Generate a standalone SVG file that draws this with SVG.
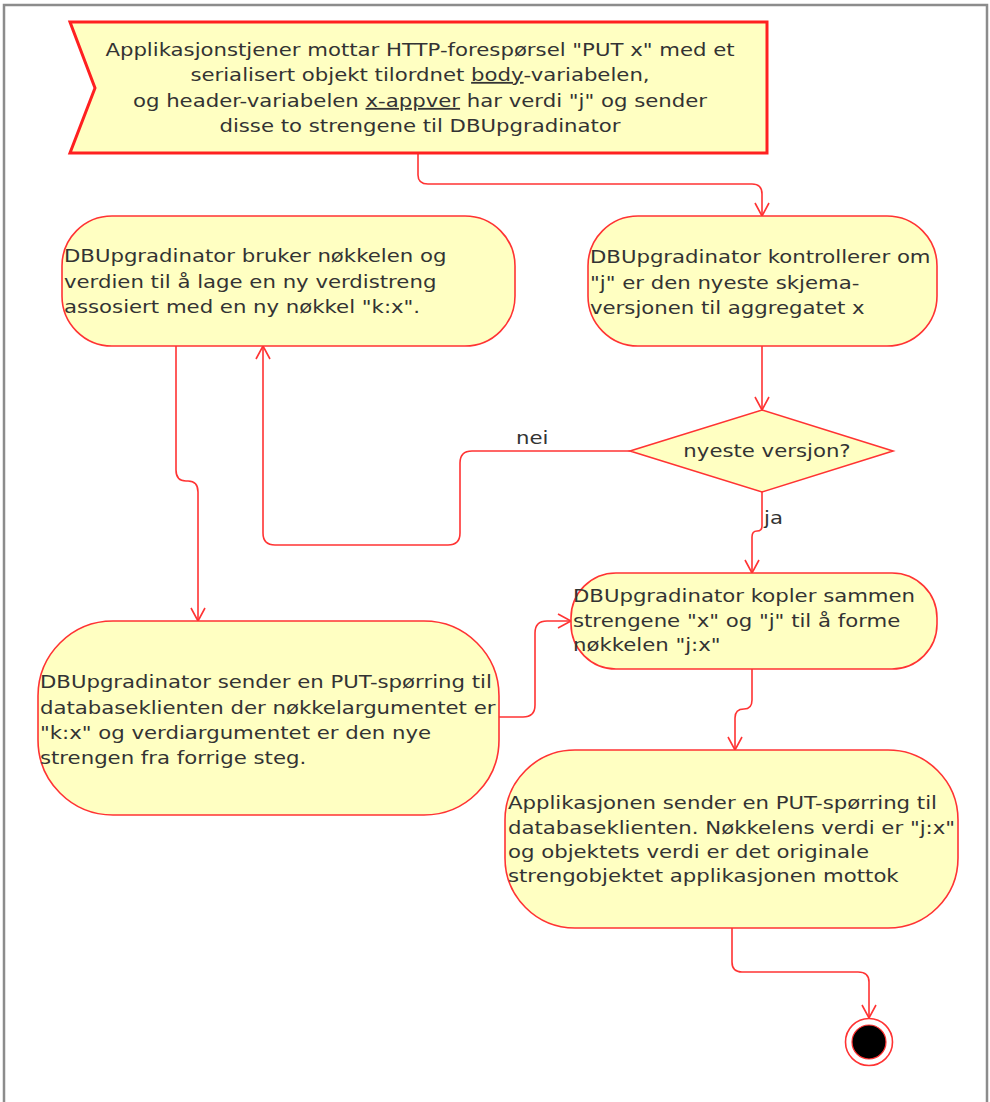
<svg xmlns="http://www.w3.org/2000/svg" width="990" height="1102" viewBox="0 0 990 1102">
  <style>
    .node { fill: #ffffc2; stroke: #ff3333; stroke-width: 1.6; }
    .sig { fill: #ffffc2; stroke: #ff2020; stroke-width: 3; }
    .txt { font-family: "DejaVu Sans", Verdana, sans-serif; font-size: 18px; fill: #333; }
    .mid { text-anchor: middle; }
    .edge { fill: none; stroke: #ff3333; stroke-width: 1.6; }
    .lbl { font-family: "DejaVu Sans", Verdana, sans-serif; font-size: 18px; fill: #333; }
    .u { text-decoration: underline; }
  </style>
  <defs>
    <marker id="arrow" markerWidth="16" markerHeight="16" refX="14" refY="8" orient="auto" markerUnits="userSpaceOnUse">
      <path d="M1,1 L14,8 L1,15" fill="none" stroke="#ff3333" stroke-width="1.6"/>
    </marker>
  </defs>

  <rect width="990" height="1102" fill="#ffffff"/>
  <!-- page frame -->
  <path d="M4,1102 V5 H987 V1102" fill="none" stroke="#8c8c8c" stroke-width="2.5"/>

  <!-- connectors -->
  <g id="connectors">
    <path class="edge" d="M418,153 V175 Q418,184 428,184 H752 Q762,184 762,194 V216" marker-end="url(#arrow)"/>
    <path class="edge" d="M762,346 V410" marker-end="url(#arrow)"/>
    <path class="edge" d="M630,451 H472 Q460,451 460,463 V533 Q460,545 448,545 H275 Q263,545 263,533 V346" marker-end="url(#arrow)"/>
    <path class="edge" d="M762,492 V526 Q762,531 757,531 Q752,531 752,537 V573" marker-end="url(#arrow)"/>
    <path class="edge" d="M176,346 V470 Q176,481 186,481 H188 Q198,481 198,492 V621" marker-end="url(#arrow)"/>
    <path class="edge" d="M499,717 H523 Q535,717 535,705 V633 Q535,621 547,621 H571" marker-end="url(#arrow)"/>
    <path class="edge" d="M752,669 V700 Q752,709 744,709 Q735,709 735,718 V750" marker-end="url(#arrow)"/>
    <path class="edge" d="M732,928 V962 Q732,972 742,972 H858 Q869,972 869,982 V1018" marker-end="url(#arrow)"/>
  </g>

  <!-- start: receive request -->
  <g id="start">
    <path class="sig" d="M70,22 H767 V153 H70 L95,88 Z"/>
    <g transform="matrix(1.18,0,0,1,-75.6,0)">
      <text class="txt mid" x="420" y="56">Applikasjonstjener mottar HTTP-forespørsel "PUT x" med et</text>
      <text class="txt mid" x="420" y="81">serialisert objekt tilordnet <tspan class="u">body</tspan>-variabelen,</text>
      <text class="txt mid" x="420" y="107">og header-variabelen <tspan class="u">x-appver</tspan> har verdi "j" og sender</text>
      <text class="txt mid" x="420" y="132">disse to strengene til DBUpgradinator</text>
    </g>
  </g>

  <g id="check">
    <rect class="node" x="588" y="216" width="349" height="130" rx="50" ry="50"/>
    <g transform="matrix(1.18,0,0,1,-106.2,0)">
      <text class="txt" x="590" y="263">DBUpgradinator kontrollerer om</text>
      <text class="txt" x="590" y="289">"j" er den nyeste skjema-</text>
      <text class="txt" x="590" y="314">versjonen til aggregatet x</text>
    </g>
  </g>

  <g id="newvalue">
    <rect class="node" x="62" y="216" width="453" height="130" rx="50" ry="50"/>
    <g transform="matrix(1.18,0,0,1,-11.52,0)">
      <text class="txt" x="64" y="262">DBUpgradinator bruker nøkkelen og</text>
      <text class="txt" x="64" y="288">verdien til å lage en ny verdistreng</text>
      <text class="txt" x="64" y="313">assosiert med en ny nøkkel "k:x".</text>
    </g>
  </g>

  <g id="decision">
    <path class="node" d="M762,410 L893,451 L762,492 L630,451 Z"/>
    <g transform="matrix(1.18,0,0,1,-138.06,0)">
      <text class="txt mid" x="767" y="457">nyeste versjon?</text>
    </g>
  </g>

  <g transform="matrix(1.18,0,0,1,-92.88,0)">
    <text class="lbl" x="516" y="444">nei</text>
  </g>
  <g transform="matrix(1.18,0,0,1,-137.52,0)">
    <text class="lbl" x="764" y="524">ja</text>
  </g>

  <g id="concat">
    <rect class="node" x="571" y="573" width="366" height="96" rx="45" ry="45"/>
    <g transform="matrix(1.18,0,0,1,-103.14,0)">
      <text class="txt" x="573" y="602">DBUpgradinator kopler sammen</text>
      <text class="txt" x="573" y="627">strengene "x" og "j" til å forme</text>
      <text class="txt" x="573" y="651">nøkkelen "j:x"</text>
    </g>
  </g>

  <g id="putold">
    <rect class="node" x="38" y="621" width="461" height="194" rx="75" ry="75"/>
    <g transform="matrix(1.18,0,0,1,-7.2,0)">
      <text class="txt" x="40" y="688">DBUpgradinator sender en PUT-spørring til</text>
      <text class="txt" x="40" y="714">databaseklienten der nøkkelargumentet er</text>
      <text class="txt" x="40" y="739">"k:x" og verdiargumentet er den nye</text>
      <text class="txt" x="40" y="764">strengen fra forrige steg.</text>
    </g>
  </g>

  <g id="putnew">
    <rect class="node" x="505" y="750" width="453" height="178" rx="70" ry="70"/>
    <g transform="matrix(1.18,0,0,1,-91.44,0)">
      <text class="txt" x="508" y="809">Applikasjonen sender en PUT-spørring til</text>
      <text class="txt" x="508" y="834">databaseklienten. Nøkkelens verdi er "j:x"</text>
      <text class="txt" x="508" y="858">og objektets verdi er det originale</text>
      <text class="txt" x="508" y="882">strengobjektet applikasjonen mottok</text>
    </g>
  </g>

  <g id="end">
    <circle cx="869" cy="1042" r="23.5" fill="#ffffff" stroke="#ff3333" stroke-width="1.6"/>
    <circle cx="869" cy="1042" r="17" fill="#000000" stroke="#ff3333" stroke-width="1.2"/>
  </g>
</svg>
